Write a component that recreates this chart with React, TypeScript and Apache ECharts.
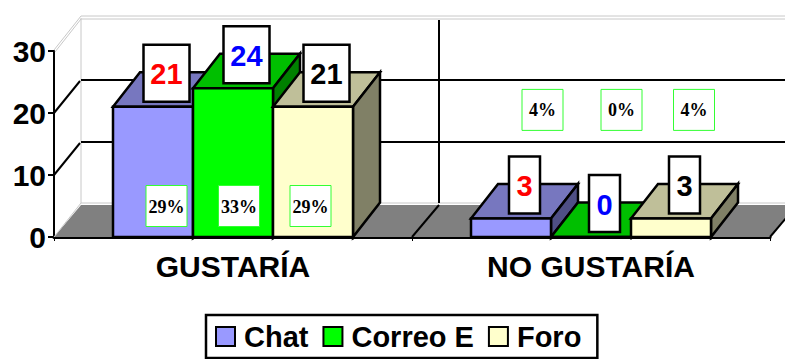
import React, { useEffect, useRef } from "react";
import * as echarts from "echarts";

const categories = ["GUSTARÍA", "NO GUSTARÍA"];
const seriesNames = ["Chat", "Correo E", "Foro"];
const chatValues = [21, 3];
const correoValues = [24, 0];
const foroValues = [21, 3];
const allValues = [chatValues, correoValues, foroValues];
const tickValues = [0, 10, 20, 30];
// [category, series, label, height on the value axis where the tag sits, x nudge]
const percentTags: [number, number, string, number, number][] = [
  [0, 0, "29%", 5, 13.5],
  [0, 1, "33%", 5, 6],
  [0, 2, "29%", 5, -2.5],
  [1, 0, "4%", 20.5, 31.5],
  [1, 1, "0%", 20.5, 30.5],
  [1, 2, "4%", 20.5, 23],
];
const faces = [
  { front: "#9999FF", top: "#7777BF", side: "#4F4F85", label: "#FF0000" },
  { front: "#00FF00", top: "#00BF00", side: "#008000", label: "#0000FF" },
  { front: "#FFFFCC", top: "#BFBF99", side: "#808066", label: "#000000" },
];

const SANS = '"Liberation Sans", Arial, sans-serif';
const SERIF = '"Liberation Serif", "Times New Roman", serif';
const DX = 27;
const DY = 33;
const BAR_FRACTION = 80 / 358;
const STROKE = { stroke: "#000", lineWidth: 2.5, lineJoin: "miter" };

const barGeometry = (api: any, cat: number, s: number, v: number) => {
  const w = api.size([1, 0])[0] * BAR_FRACTION;
  const c = api.coord([cat, v]);
  const b = api.coord([cat, 0]);
  return { x0: c[0] + (s - 1.5) * w, w, top: c[1], base: b[1] };
};

const wallsItem = (params: any, api: any) => {
  const sys = params.coordSys;
  const v = api.value(1);
  const p = api.coord([0, v]);
  const x0 = sys.x;
  const right = sys.x + sys.width;
  const far = 800;
  const y = p[1];
  const children: any[] = [];
  if (v === 0) {
    children.push({
      type: "polygon",
      shape: { points: [[x0, y], [x0 + DX, y - DY + 1], [right + DX, y - DY + 1], [right, y]] },
      style: { fill: "#808080" },
    });
    children.push({
      type: "polyline",
      shape: { points: [[x0, y], [x0 + DX, y - DY - 1], [far, y - DY - 1]] },
      style: { stroke: "#C8C8C8", lineWidth: 1, fill: "none" },
    });
    const mid = sys.x + sys.width / 2;
    children.push(
      { type: "line", shape: { x1: mid, y1: y, x2: mid + DX, y2: y - DY + 1 }, style: { stroke: "#000", lineWidth: 2 } },
      { type: "line", shape: { x1: right, y1: y, x2: right + DX, y2: y - DY + 1 }, style: { stroke: "#000", lineWidth: 2 } },
      { type: "line", shape: { x1: mid + DX, y1: y - DY - 1, x2: mid + DX, y2: sys.y - DY + 2 }, style: { stroke: "#000", lineWidth: 2 } },
      { type: "line", shape: { x1: x0 + DX, y1: y - DY - 1, x2: x0 + DX, y2: sys.y - DY }, style: { stroke: "#C8C8C8", lineWidth: 1 } }
    );
  } else if (v === 30) {
    children.push(
      { type: "polyline", shape: { points: [[x0, y - 1], [x0 + DX, y - DY - 2], [far, y - DY - 2]] }, style: { stroke: "#C8C8C8", lineWidth: 1, fill: "none" } },
      { type: "polyline", shape: { points: [[x0 + 1, y + 1], [x0 + DX, y - DY + 1], [far, y - DY + 1]] }, style: { stroke: "#C8C8C8", lineWidth: 1, fill: "none" } }
    );
  } else {
    children.push({
      type: "polyline",
      shape: { points: [[x0, y], [x0 + DX - 1, y - DY + 1]] },
      style: { stroke: "#000", lineWidth: 2, fill: "none" },
    });
    children.push({
      type: "line",
      shape: { x1: x0 + DX, y1: y - DY, x2: far, y2: y - DY },
      style: { stroke: "#000", lineWidth: 2 },
    });
  }
  return { type: "group", children };
};

const barItem = (s: number) => (_params: any, api: any) => {
  const cat = api.value(0);
  const { x0, w, top, base } = barGeometry(api, cat, s, api.value(1));
  const x1 = x0 + w;
  const f = faces[s];
  const dy = DY + 1.5;
  return {
    type: "group",
    children: [
      { type: "polygon", shape: { points: [[x0, top], [x0 + DX, top - dy], [x1 + DX, top - dy], [x1, top]] }, style: { fill: f.top, ...STROKE } },
      { type: "polygon", shape: { points: [[x1, top], [x1 + DX, top - dy], [x1 + DX, base - dy], [x1, base]] }, style: { fill: f.side, ...STROKE } },
      { type: "rect", shape: { x: x0, y: top, width: w, height: base - top }, style: { fill: f.front, ...STROKE } },
      { type: "line", shape: { x1, y1: base, x2: x1, y2: base + 3 }, style: { stroke: "#000", lineWidth: 1 } },
    ],
  };
};

const valueTagItem = (_params: any, api: any) => {
  const cat = api.value(0);
  const s = api.value(1);
  const v = api.value(2);
  const { x0, w, top } = barGeometry(api, cat, s, v);
  const cx = x0 + w / 2 + 13.5;
  const cy = top - 33.5;
  const bw = v >= 10 ? 46 : 31;
  const bh = 57;
  return {
    type: "group",
    children: [
      { type: "rect", shape: { x: cx - bw / 2, y: cy - bh / 2, width: bw, height: bh }, style: { fill: "#fff", stroke: "#000", lineWidth: 2.5 } },
      {
        type: "text",
        style: { x: cx, y: cy + 1, text: String(v), align: "center", verticalAlign: "middle", fill: faces[s].label, font: `bold 29px ${SANS}` },
      },
    ],
  };
};

const percentItem = (_params: any, api: any) => {
  const tag = percentTags[api.value(0)];
  const { x0, w } = barGeometry(api, tag[0], tag[1], 0);
  const p = api.coord([tag[0], tag[3]]);
  const cx = x0 + w / 2 + tag[4];
  const cy = p[1];
  return {
    type: "group",
    children: [
      { type: "rect", shape: { x: cx - 20.5, y: cy - 20.5, width: 41, height: 41 }, style: { fill: "#fff", stroke: "#33FF33", lineWidth: 1 } },
      {
        type: "text",
        style: { x: cx, y: cy + 0.5, text: tag[2], align: "center", verticalAlign: "middle", fill: "#000", font: `bold 18px ${SERIF}` },
      },
    ],
  };
};

export default function App() {
  const ref = useRef<HTMLDivElement>(null);
  useEffect(() => {
    const chart = echarts.init(ref.current!, undefined, { renderer: "svg" });
    const valueTags: number[][] = [];
    allValues.forEach((vals, s) => vals.forEach((v, c) => valueTags.push([c, s, v])));
    chart.setOption({
      animation: false,
      backgroundColor: "#fff",
      grid: { left: 54, top: 51, width: 716, height: 186, containLabel: false },
      xAxis: {
        type: "category",
        data: categories,
        boundaryGap: true,
        axisLine: { show: true, lineStyle: { color: "#000", width: 3 } },
        axisTick: { show: true, length: 4, alignWithLabel: false, lineStyle: { color: "#000", width: 1 } },
        axisLabel: { color: "#000", fontFamily: SANS, fontWeight: "bold", fontSize: 30, margin: 14 },
      },
      yAxis: {
        type: "value",
        min: 0,
        max: 30,
        interval: 10,
        axisLine: { show: true, lineStyle: { color: "#000", width: 2 } },
        axisTick: { show: true, length: 6, lineStyle: { color: "#000", width: 2 } },
        splitLine: { show: false },
        axisLabel: { color: "#000", fontFamily: SANS, fontWeight: "bold", fontSize: 30, margin: 8 },
      },
      legend: {
        left: 206,
        top: 315,
        data: seriesNames,
        icon: "rect",
        orient: "horizontal",
        itemWidth: 19,
        itemHeight: 19,
        itemGap: 14,
        padding: [7, 16, 7, 9],
        borderColor: "#000",
        borderWidth: 2.5,
        backgroundColor: "#fff",
        selectedMode: false,
        itemStyle: { borderColor: "#000", borderWidth: 2 },
        textStyle: { color: "#000", fontFamily: SANS, fontWeight: "bold", fontSize: 29, padding: [0, 0, 0, 4] },
      },
      series: [
        {
          type: "custom",
          name: "walls",
          z: 1,
          silent: true,
          renderItem: wallsItem,
          data: tickValues.map((v) => [0, v]),
          encode: { x: 0, y: 1 },
        },
        ...seriesNames.map((name, s) => ({
          type: "custom",
          name,
          z: 3 + s,
          itemStyle: { color: faces[s].front },
          renderItem: barItem(s),
          data: allValues[s].map((v, c) => [c, v]),
          encode: { x: 0, y: 1 },
        })),
        {
          type: "custom",
          name: "valueTags",
          z: 8,
          silent: true,
          renderItem: valueTagItem,
          data: valueTags,
          encode: { x: 0, y: 2 },
        },
        {
          type: "custom",
          name: "percentTags",
          z: 9,
          silent: true,
          renderItem: percentItem,
          data: percentTags.map((_, i) => [i]),
        },
      ],
    });
    return () => chart.dispose();
  }, []);
  return <div ref={ref} style={{ position: "absolute", left: 0, top: 0, width: 785, height: 359 }} />;
}
